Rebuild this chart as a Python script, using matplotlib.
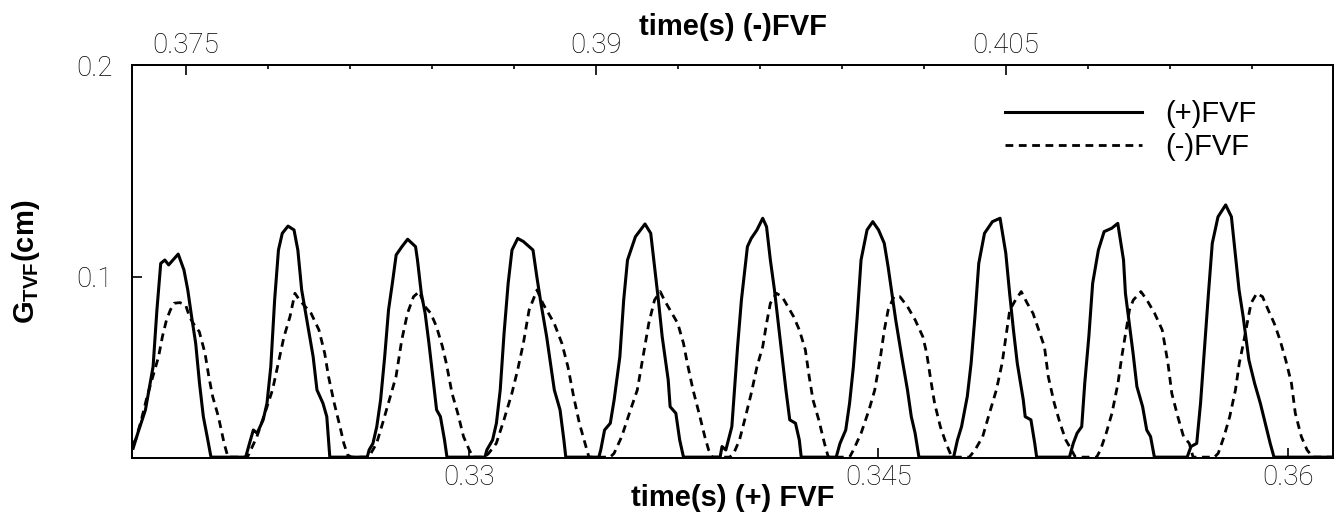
import numpy as np
import matplotlib
matplotlib.use("Agg")
import matplotlib.pyplot as plt

# (+)FVF gap, plotted on the bottom time axis
pos_t = [0.31772, 0.31789, 0.31817, 0.31845, 0.31859, 0.31873, 0.31888, 0.31902, 0.31923, 0.31937, 0.31958, 0.31972, 0.31986, 0.32001, 0.32015, 0.32029, 0.32043, 0.32057,
         0.32184, 0.32198, 0.32212, 0.32226, 0.32248, 0.32262, 0.32276, 0.32290, 0.32304, 0.32318, 0.32339, 0.32361, 0.32375, 0.32389, 0.32410, 0.32431, 0.32445, 0.32467, 0.32481, 0.32492,
         0.32629, 0.32636, 0.32650, 0.32664, 0.32678, 0.32693, 0.32707, 0.32721, 0.32735, 0.32756, 0.32777, 0.32806, 0.32813, 0.32827, 0.32841, 0.32855, 0.32869, 0.32883, 0.32897, 0.32912, 0.32921,
         0.33060, 0.33067, 0.33088, 0.33102, 0.33116, 0.33130, 0.33145, 0.33159, 0.33180, 0.33201, 0.33236, 0.33250, 0.33265, 0.33286, 0.33300, 0.33314, 0.33335, 0.33349, 0.33356,
         0.33477, 0.33484, 0.33498, 0.33519, 0.33533, 0.33554, 0.33568, 0.33582, 0.33611, 0.33646, 0.33667, 0.33681, 0.33695, 0.33709, 0.33731, 0.33738, 0.33759, 0.33773, 0.33787,
         0.33921, 0.33928, 0.33942, 0.33964, 0.33985, 0.33999, 0.34021, 0.34035, 0.34056, 0.34077, 0.34091, 0.34105, 0.34120, 0.34134, 0.34148, 0.34162, 0.34176, 0.34197, 0.34211, 0.34218,
         0.34346, 0.34360, 0.34381, 0.34395, 0.34409, 0.34423, 0.34437, 0.34459, 0.34480, 0.34501, 0.34522, 0.34536, 0.34550, 0.34564, 0.34586, 0.34607, 0.34621, 0.34635, 0.34649,
         0.34776, 0.34790, 0.34805, 0.34826, 0.34840, 0.34854, 0.34868, 0.34889, 0.34918, 0.34946, 0.34967, 0.34981, 0.34995, 0.35009, 0.35031, 0.35038, 0.35059, 0.35073, 0.35080,
         0.35200, 0.35214, 0.35228, 0.35245, 0.35256, 0.35271, 0.35285, 0.35306, 0.35327, 0.35355, 0.35377, 0.35398, 0.35405, 0.35419, 0.35433, 0.35447, 0.35468, 0.35483, 0.35497, 0.35511,
         0.35631, 0.35645, 0.35666, 0.35680, 0.35694, 0.35709, 0.35723, 0.35744, 0.35772, 0.35793, 0.35807, 0.35821, 0.35836, 0.35857, 0.35878, 0.35899, 0.35920, 0.35935, 0.35949, 0.36165]
pos_g = [0.0192, 0.0263, 0.0373, 0.0577, 0.0844, 0.1064, 0.1080, 0.1057, 0.1088, 0.1108, 0.1033, 0.0939, 0.0813, 0.0687, 0.0498, 0.0341, 0.0247, 0.015,
         0.015, 0.0215, 0.0278, 0.0263, 0.0326, 0.0404, 0.0577, 0.0891, 0.1127, 0.1206, 0.1240, 0.1222, 0.1127, 0.0939, 0.0781, 0.0624, 0.0467, 0.0404, 0.0341, 0.015,
         0.015, 0.0184, 0.0215, 0.0294, 0.0420, 0.0624, 0.0844, 0.0970, 0.1104, 0.1143, 0.1178, 0.1143, 0.1080, 0.0923, 0.0829, 0.0687, 0.0530, 0.0373, 0.0341, 0.0231, 0.015,
         0.015, 0.0184, 0.0231, 0.0310, 0.0467, 0.0734, 0.0970, 0.1127, 0.1182, 0.1167, 0.1127, 0.1001, 0.0876, 0.0718, 0.0593, 0.0467, 0.0373, 0.0231, 0.015,
         0.015, 0.0184, 0.0278, 0.0310, 0.0420, 0.0624, 0.0891, 0.1080, 0.1190, 0.1250, 0.1206, 0.1049, 0.0891, 0.0718, 0.0514, 0.0388, 0.0357, 0.0231, 0.015,
         0.015, 0.0200, 0.0184, 0.0294, 0.0671, 0.0891, 0.1143, 0.1182, 0.1222, 0.1277, 0.1237, 0.1080, 0.0939, 0.0781, 0.0624, 0.0467, 0.0326, 0.0310, 0.0231, 0.015,
         0.015, 0.0215, 0.0278, 0.0404, 0.0577, 0.0813, 0.1080, 0.1222, 0.1261, 0.1222, 0.1159, 0.1049, 0.0923, 0.0797, 0.0624, 0.0467, 0.0341, 0.0263, 0.015,
         0.015, 0.0231, 0.0294, 0.0436, 0.0593, 0.0813, 0.1064, 0.1206, 0.1261, 0.1277, 0.1112, 0.0923, 0.0750, 0.0593, 0.0420, 0.0341, 0.0326, 0.0215, 0.015,
         0.015, 0.0215, 0.0263, 0.0294, 0.0498, 0.0718, 0.0970, 0.1127, 0.1214, 0.1230, 0.1253, 0.1080, 0.0923, 0.0781, 0.0640, 0.0483, 0.0388, 0.0278, 0.0247, 0.015,
         0.015, 0.0200, 0.0215, 0.0404, 0.0656, 0.0923, 0.1159, 0.1284, 0.1340, 0.1284, 0.1112, 0.0939, 0.0813, 0.0608, 0.0498, 0.0404, 0.0294, 0.0215, 0.015, 0.015]

# (-)FVF gap, plotted on the top time axis
neg_t = [0.37306, 0.37316, 0.37337, 0.37358, 0.37379, 0.37400, 0.37414, 0.37429, 0.37443, 0.37457, 0.37478, 0.37499, 0.37513, 0.37527, 0.37549, 0.37570, 0.37584, 0.37598, 0.37619, 0.37640, 0.37654,
         0.37725, 0.37732, 0.37760, 0.37789, 0.37817, 0.37838, 0.37859, 0.37881, 0.37899, 0.37916, 0.37937, 0.37958, 0.37987, 0.38008, 0.38022, 0.38043, 0.38064, 0.38078, 0.38092, 0.38106,
         0.38163, 0.38177, 0.38198, 0.38220, 0.38241, 0.38269, 0.38290, 0.38311, 0.38333, 0.38354, 0.38375, 0.38396, 0.38417, 0.38439, 0.38453, 0.38474, 0.38495, 0.38516, 0.38537, 0.38551,
         0.38594, 0.38608, 0.38636, 0.38664, 0.38693, 0.38714, 0.38735, 0.38756, 0.38785, 0.38806, 0.38827, 0.38848, 0.38876, 0.38898, 0.38919, 0.38940, 0.38961, 0.38975,
         0.39053, 0.39067, 0.39095, 0.39123, 0.39152, 0.39173, 0.39194, 0.39215, 0.39236, 0.39251, 0.39272, 0.39300, 0.39321, 0.39335, 0.39356, 0.39378, 0.39399, 0.39413, 0.39427,
         0.39490, 0.39505, 0.39526, 0.39548, 0.39569, 0.39590, 0.39611, 0.39625, 0.39639, 0.39661, 0.39682, 0.39703, 0.39724, 0.39745, 0.39767, 0.39781, 0.39795, 0.39816, 0.39837, 0.39851,
         0.39929, 0.39943, 0.39971, 0.40000, 0.40021, 0.40042, 0.40056, 0.40070, 0.40091, 0.40113, 0.40141, 0.40169, 0.40197, 0.40211, 0.40226, 0.40240, 0.40261, 0.40282, 0.40303,
         0.40367, 0.40388, 0.40416, 0.40437, 0.40466, 0.40487, 0.40501, 0.40515, 0.40536, 0.40557, 0.40579, 0.40600, 0.40621, 0.40642, 0.40656, 0.40678, 0.40699, 0.40720, 0.40741, 0.40755,
         0.40833, 0.40847, 0.40868, 0.40889, 0.40911, 0.40925, 0.40939, 0.40953, 0.40967, 0.40995, 0.41017, 0.41045, 0.41073, 0.41094, 0.41108, 0.41130, 0.41151, 0.41172, 0.41186,
         0.41264, 0.41278, 0.41299, 0.41320, 0.41341, 0.41355, 0.41370, 0.41384, 0.41398, 0.41419, 0.41440, 0.41461, 0.41483, 0.41504, 0.41525, 0.41546, 0.41560, 0.41582, 0.41603, 0.41624, 0.41698]
neg_g = [0.0215, 0.0231, 0.0326, 0.0436, 0.0530, 0.0624, 0.0718, 0.0797, 0.0844, 0.0876, 0.0879, 0.0868, 0.0813, 0.0781, 0.0742, 0.0640, 0.0530, 0.0436, 0.0341, 0.0215, 0.015,
         0.015, 0.0168, 0.0247, 0.0357, 0.0467, 0.0593, 0.0718, 0.0813, 0.0923, 0.0891, 0.0860, 0.0829, 0.0750, 0.0640, 0.0530, 0.0404, 0.0294, 0.0215, 0.0160, 0.015,
         0.015, 0.0168, 0.0215, 0.0310, 0.0404, 0.0530, 0.0703, 0.0829, 0.0907, 0.0931, 0.0860, 0.0829, 0.0766, 0.0671, 0.0593, 0.0451, 0.0357, 0.0247, 0.0184, 0.015,
         0.015, 0.0168, 0.0215, 0.0326, 0.0451, 0.0561, 0.0687, 0.0844, 0.0939, 0.0876, 0.0829, 0.0781, 0.0687, 0.0577, 0.0436, 0.0310, 0.0215, 0.015,
         0.015, 0.0168, 0.0247, 0.0357, 0.0467, 0.0624, 0.0781, 0.0891, 0.0931, 0.0891, 0.0844, 0.0781, 0.0687, 0.0593, 0.0467, 0.0357, 0.0247, 0.0184, 0.015,
         0.015, 0.0168, 0.0231, 0.0341, 0.0451, 0.0577, 0.0671, 0.0781, 0.0876, 0.0923, 0.0907, 0.0860, 0.0813, 0.0750, 0.0656, 0.0530, 0.0420, 0.0326, 0.0215, 0.015,
         0.015, 0.0184, 0.0263, 0.0373, 0.0467, 0.0624, 0.0750, 0.0844, 0.0907, 0.0907, 0.0860, 0.0797, 0.0718, 0.0640, 0.0514, 0.0404, 0.0294, 0.0215, 0.015,
         0.015, 0.0184, 0.0247, 0.0341, 0.0467, 0.0593, 0.0718, 0.0844, 0.0891, 0.0931, 0.0876, 0.0829, 0.0750, 0.0671, 0.0530, 0.0404, 0.0310, 0.0231, 0.0184, 0.015,
         0.015, 0.0184, 0.0263, 0.0357, 0.0498, 0.0624, 0.0734, 0.0844, 0.0891, 0.0931, 0.0891, 0.0829, 0.0750, 0.0593, 0.0451, 0.0341, 0.0247, 0.0215, 0.015,
         0.015, 0.0168, 0.0247, 0.0341, 0.0467, 0.0593, 0.0687, 0.0781, 0.0876, 0.0923, 0.0907, 0.0844, 0.0781, 0.0703, 0.0608, 0.0498, 0.0357, 0.0247, 0.0184, 0.015, 0.015]

bottom_ticks = [0.33, 0.345, 0.36]
bottom_labels = ["0.33", "0.345", "0.36"]
top_ticks = [0.375, 0.39, 0.405]
top_labels = ["0.375", "0.39", "0.405"]
top_minor = [0.378, 0.381, 0.384, 0.387, 0.393, 0.396, 0.399, 0.402, 0.408, 0.411, 0.414]
y_ticks = [0.1, 0.2]
y_labels = ["0.1", "0.2"]

plt.rcParams['font.family'] = ['Liberation Sans', 'DejaVu Sans']
plt.rcParams['mathtext.fontset'] = 'custom'
plt.rcParams['mathtext.rm'] = 'Liberation Sans'
plt.rcParams['mathtext.bf'] = 'Liberation Sans:bold'

fig = plt.figure(figsize=(13.42, 5.23), dpi=100)
ax = fig.add_axes([0.0984, 0.1243, 0.8949, 0.7514])
ax2 = ax.twiny()

ax.plot(pos_t, pos_g, color='black', lw=2.2, label='(+)FVF')
ax2.plot(neg_t, neg_g, color='black', lw=2.0, dashes=(2.8, 2.0), label='(-)FVF')

ax.set_xlim(0.31768, 0.36165)
ax2.set_xlim(0.37303, 0.41698)
ax.set_ylim(0.0146, 0.2)

tick_font = dict(family='Roboto', weight='light', size=20)

ax.set_xticks(bottom_ticks)
ax.set_xticklabels(bottom_labels, fontdict=tick_font)
ax.set_yticks(y_ticks)
ax.set_yticklabels(y_labels, fontdict=tick_font)
ax2.set_xticks(top_ticks)
ax2.set_xticklabels(top_labels, fontdict=tick_font)
ax2.set_xticks(top_minor, minor=True)

ax.tick_params(axis='x', direction='in', length=7, width=1.2, pad=4)
ax.tick_params(axis='y', direction='in', length=7, width=1.2, pad=14)
ax2.tick_params(axis='x', which='major', direction='in', length=7, width=1.2, pad=4)
ax2.tick_params(axis='x', which='minor', direction='in', length=3, width=1.2)

for a in (ax, ax2):
    for s in a.spines.values():
        s.set_linewidth(1.3)

ax.set_xlabel('time(s) (+) FVF', fontsize=21, fontweight='bold', va='center')
ax.xaxis.set_label_coords(0.5, -0.102)
ax2.set_xlabel('time(s) (-)FVF', fontsize=21, fontweight='bold', va='center')
ax2.xaxis.set_label_coords(0.5, 1.097)
ax.set_ylabel(r'$\mathbf{G_{TVF}(cm)}$', fontsize=21, va='center')
ax.yaxis.set_label_coords(-0.088, 0.5)

h1, l1 = ax.get_legend_handles_labels()
h2, l2 = ax2.get_legend_handles_labels()
ax2.legend(h1 + h2, l1 + l2, loc='upper left', bbox_to_anchor=(0.727, 0.91),
           frameon=False, fontsize=21, handlelength=4.7, handletextpad=0.8,
           labelspacing=0.15, borderpad=0, borderaxespad=0)

fig.savefig('out.png', dpi=100)
